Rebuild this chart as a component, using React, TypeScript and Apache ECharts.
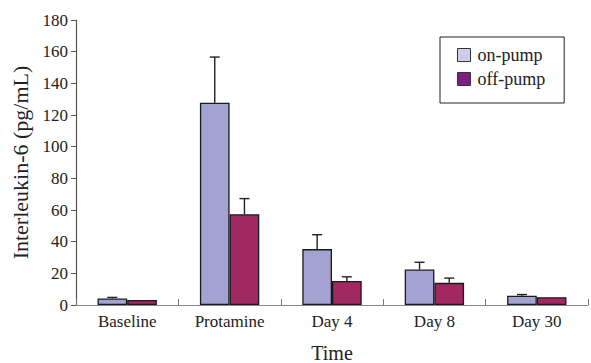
import React, { useEffect, useRef } from "react";
import * as echarts from "echarts";

const categories = ["Baseline", "Protamine", "Day 4", "Day 8", "Day 30"];
const onPump = [4.1, 127.8, 35.3, 22.4, 5.8];
const onPumpErr = [4.8, 156.6, 44.4, 27.0, 6.6];
const offPump = [3.2, 57.3, 15.2, 14.0, 4.9];
const offPumpErr = [3.2, 67.2, 17.8, 17.0, 4.9];
const yTicks = { min: 0, max: 180, interval: 20 };

const FONT = '"Liberation Serif", "Times New Roman", serif';
const BAR_FRAC = 0.29;

export default function App() {
  const ref = useRef<HTMLDivElement>(null);
  useEffect(() => {
    if (!ref.current) return;
    const chart = echarts.init(ref.current, undefined, { renderer: "svg" });

    const errSeries = (name: string, vals: number[], errs: number[], sign: number) => ({
      type: "custom",
      name: name + " error",
      silent: true,
      z: 5,
      renderItem: (params: any, api: any) => {
        const i = api.value(0);
        const band = api.size([1, 0])[0];
        const bw = band * BAR_FRAC;
        const p1 = api.coord([i, api.value(1)]);
        const p2 = api.coord([i, api.value(2)]);
        const x = p1[0] + (sign * bw) / 2;
        const st = { stroke: "#222", lineWidth: 1.4 };
        if (Math.abs(p1[1] - p2[1]) < 0.5) return { type: "group", children: [] };
        return {
          type: "group",
          children: [
            { type: "line", shape: { x1: x, y1: p1[1], x2: x, y2: p2[1] }, style: st },
            { type: "line", shape: { x1: x - 5, y1: p2[1], x2: x + 5, y2: p2[1] }, style: st },
          ],
        };
      },
      data: vals.map((v, i) => [i, v, errs[i]]),
    });

    chart.setOption({
      animation: false,
      backgroundColor: "#fff",
      textStyle: { fontFamily: FONT, color: "#222" },
      grid: { left: 76, right: 3, top: 20, bottom: 58, containLabel: false, outerBoundsMode: "none" },
      legend: {
        left: 440,
        top: 37,
        orient: "vertical",
        borderColor: "#222",
        borderWidth: 1,
        borderRadius: 0,
        padding: [9, 19, 15, 17],
        itemWidth: 13,
        itemHeight: 13,
        itemGap: 6,
        icon: "rect",
        textStyle: { fontFamily: FONT, fontSize: 18, color: "#222", padding: [0, 0, 0, 2] },
        data: [
          { name: "on-pump", itemStyle: { color: "#cdcdea", borderColor: "#333", borderWidth: 1 } },
          { name: "off-pump", itemStyle: { color: "#7d1f80", borderColor: "#333", borderWidth: 1 } },
        ],
      },
      xAxis: {
        type: "category",
        data: categories,
        name: "Time",
        nameLocation: "middle",
        nameGap: 38,
        nameTextStyle: { fontFamily: FONT, fontSize: 20, color: "#222" },
        axisLine: { lineStyle: { color: "#888", width: 1.2 } },
        axisTick: { show: true, inside: true, length: 6, interval: 0, lineStyle: { color: "#777" } },
        axisLabel: { fontFamily: FONT, fontSize: 17, color: "#222", margin: 8, interval: 0 },
      },
      yAxis: {
        type: "value",
        min: yTicks.min,
        max: yTicks.max,
        interval: yTicks.interval,
        name: "Interleukin-6 (pg/mL)",
        nameLocation: "middle",
        nameGap: 42,
        nameTextStyle: { fontFamily: FONT, fontSize: 22, color: "#222" },
        splitLine: { show: false },
        axisLine: { show: true, lineStyle: { color: "#555", width: 1.2 } },
        axisTick: { show: true, length: 5, lineStyle: { color: "#555" } },
        axisLabel: { fontFamily: FONT, fontSize: 17, color: "#222", margin: 8 },
      },
      series: [
        {
          type: "bar",
          name: "on-pump",
          data: onPump,
          barWidth: BAR_FRAC * 100 + "%",
          barGap: "0%",
          itemStyle: { color: "#a3a2d2", borderColor: "#1a1a1a", borderWidth: 1.3 },
        },
        {
          type: "bar",
          name: "off-pump",
          data: offPump,
          barWidth: BAR_FRAC * 100 + "%",
          barGap: "0%",
          itemStyle: { color: "#a22862", borderColor: "#1a1a1a", borderWidth: 1.3 },
        },
        errSeries("on-pump", onPump, onPumpErr, -1),
        errSeries("off-pump", offPump, offPumpErr, 1),
      ],
    });
    return () => chart.dispose();
  }, []);
  return <div ref={ref} style={{ position: "fixed", left: 0, top: 0, width: 591, height: 363 }} />;
}
